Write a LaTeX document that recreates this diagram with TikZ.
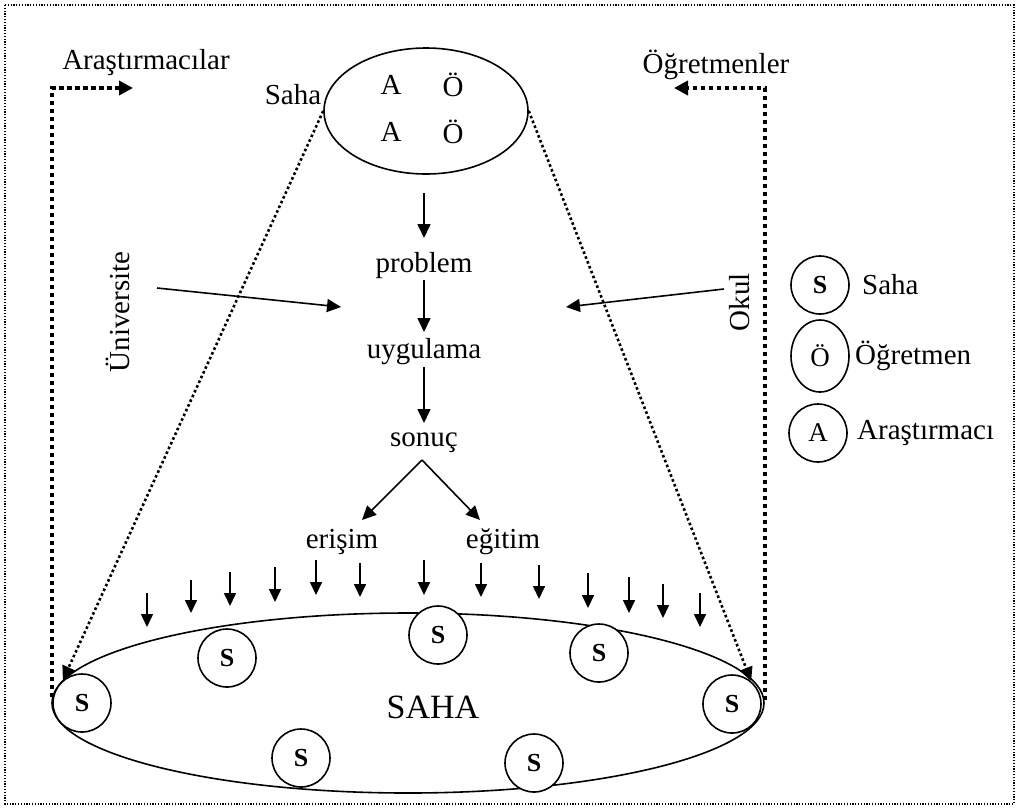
\documentclass[tikz,border=0pt]{standalone}
\usepackage{fontspec}
\setmainfont{Liberation Serif}
\usetikzlibrary{arrows.meta,shapes.geometric}
\tikzset{
  txt/.style={font=\fontsize{29}{34}\selectfont, inner sep=0pt},
  scirc/.style={circle, draw, line width=1.6pt, fill=white, minimum size=58pt, inner sep=0pt, font=\fontsize{26}{30}\selectfont\bfseries},
  lcirc/.style={circle, draw, line width=1.6pt, minimum size=58pt, inner sep=0pt, font=\fontsize{27}{30}\selectfont},
  arr/.style={line width=1.6pt, -{Triangle[length=14pt,width=13pt]}},
  smallarr/.style={line width=1.6pt, -{Triangle[length=13pt,width=12pt]}},
  thickdot/.style={line width=3.6pt, dash pattern=on 4.5pt off 3.5pt, -{Triangle[length=14pt,width=14pt]}},
  thindot/.style={line width=2.6pt, dash pattern=on 2.6pt off 2.6pt, -{Triangle[length=14pt,width=13pt]}},
  framebox/.style={line width=1.2pt, dash pattern=on 1.2pt off 1.6pt}
}
\begin{document}
\begin{tikzpicture}[x=1pt,y=-1pt]
\useasboundingbox (0,0) rectangle (1019,807);
\draw[framebox] (5,5) rectangle (1014,804);

% top field ellipse
\node[ellipse, draw, line width=1.6pt, minimum width=204pt, minimum height=126pt, inner sep=0pt] (top) at (426,111) {};
\node[txt] (a1) at (391,85) {A};
\node[txt] (o1) at (453,85) {Ö};
\node[txt] (a2) at (391,132) {A};
\node[txt] (o2) at (453,132) {Ö};
\node[txt] (sahalbl) at (293,95) {Saha};

% side labels
\node[txt] (arast) at (146,63) {Araştırmacılar};
\node[txt] (ogret) at (716,65) {Öğretmenler};
\node[txt, rotate=90] (univ) at (118,312) {Üniversite};
\node[txt, rotate=90] (okul) at (740,302) {Okul};

% central flow
\node[txt] (problem) at (424,266) {problem};
\node[txt] (uyg) at (424,352) {uygulama};
\node[txt] (sonuc) at (424,443) {sonuç};
\node[txt] (erisim) at (342,542) {erişim};
\node[txt] (egitim) at (503,542) {eğitim};

\coordinate (f1s) at (424,193); \coordinate (f1e) at (424,238);
\coordinate (f2s) at (424,280); \coordinate (f2e) at (424,332);
\coordinate (f3s) at (424,367); \coordinate (f3e) at (424,423);
\coordinate (br) at (422,460);
\coordinate (brl) at (362,520); \coordinate (brr) at (480,520);
\draw[arr] (f1s) -- (f1e);
\draw[arr] (f2s) -- (f2e);
\draw[arr] (f3s) -- (f3e);
\draw[arr] (br) -- (brl);
\draw[arr] (br) -- (brr);

\coordinate (ul) at (157,288); \coordinate (ule) at (341,307);
\coordinate (ol) at (724,289); \coordinate (ole) at (566,307);
\draw[arr] (ul) -- (ule);
\draw[arr] (ol) -- (ole);

% bottom field ellipse
\node[ellipse, draw, line width=1.6pt, minimum width=712pt, minimum height=180pt, inner sep=0pt] (bottom) at (408,703) {};
\node[font=\fontsize{34}{40}\selectfont, inner sep=0pt] (saha) at (433,707) {SAHA};

\node[scirc] (s1) at (82,703) {S};
\node[scirc] (s2) at (227,658) {S};
\node[scirc] (s3) at (438,635) {S};
\node[scirc] (s4) at (301,758) {S};
\node[scirc] (s5) at (599,653) {S};
\node[scirc] (s6) at (534,763) {S};
\node[scirc] (s7) at (732,704) {S};

% small arrows
\foreach \i/\x/\t/\b in {1/147/593/627, 2/191/580/613, 3/230/572/606, 4/275/567/602,
  5/316/560/595, 6/360/563/597, 7/424/560/595, 8/481/563/597, 9/539/565/599,
  10/588/573/608, 11/629/577/613, 12/663/584/618, 13/700/593/627}{
  \coordinate (d\i s) at (\x,\t);
  \coordinate (d\i e) at (\x,\b);
  \draw[smallarr] (d\i s) -- (d\i e);
}

% dotted connectors
\draw[thindot] (top.west) -- (s1.130);
\draw[thindot] (top.east) -- (s7.50);
\coordinate (aratip) at (133,88);
\coordinate (ogrtip) at (674,88);
\coordinate (lbase) at (52,697);
\coordinate (rbase) at (765,700);
\draw[thickdot] (lbase) |- (aratip);
\draw[thickdot] (rbase) |- (ogrtip);

% legend
\node[lcirc, font=\fontsize{26}{30}\selectfont\bfseries] (ls) at (820,285) {S};
\node[ellipse, draw, line width=1.6pt, minimum width=58pt, minimum height=72pt, inner sep=0pt, font=\fontsize{27}{30}\selectfont] (lo) at (820,356) {Ö};
\node[lcirc] (la) at (818,433) {A};
\node[txt, anchor=west] (lst) at (862,285) {Saha};
\node[txt, anchor=west] (lot) at (855,356) {Öğretmen};
\node[txt, anchor=west] (lat) at (857,433) {Araştırmacı};
\end{tikzpicture}
\end{document}
